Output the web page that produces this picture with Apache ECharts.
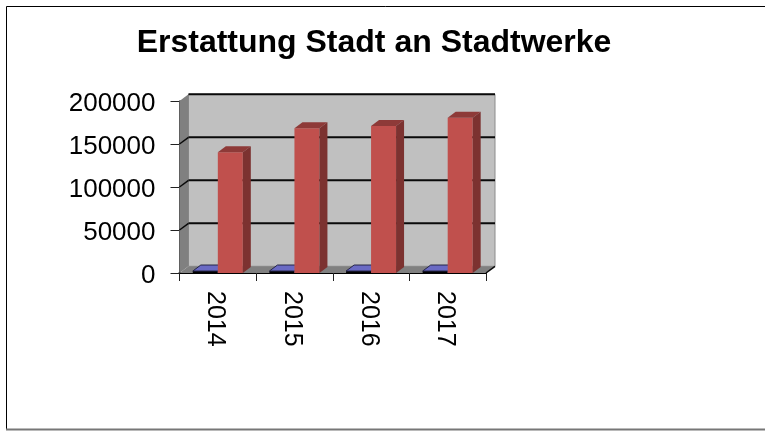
<!DOCTYPE html>
<html>
<head>
<meta charset="utf-8">
<style>
  html, body { margin: 0; padding: 0; background: #fff; }
  #chart { width: 765px; height: 433px; }
</style>
<script src="https://cdn.jsdelivr.net/npm/echarts@6/dist/echarts.min.js"></script>
</head>
<body>
<div id="chart"></div>
<script>
const years = ['2014', '2015', '2016', '2017'];
const blueValues = [2300, 2300, 2300, 2300];
const redValues = [140400, 168300, 170900, 180600];
const yTicks = [0, 50000, 100000, 150000, 200000];

// Versatz der 3D-Tiefe
const wallX = 9;
const wallY = -6.7;
const barX = 8;
const barY = -6;
const barWidth = 25;

function poly(points, fill, stroke) {
  return {
    type: 'polygon',
    shape: { points: points },
    style: { fill: fill, stroke: stroke || fill, lineWidth: stroke ? 1 : 0 }
  };
}

function renderWalls(params, api) {
  const bottomLeft = api.coord([0, 0]);
  const topLeft = api.coord([0, 200000]);
  const size = api.size([1, 0]);
  const left = bottomLeft[0] - size[0] / 2;
  const right = left + size[0] * years.length;
  const top = topLeft[1];
  const bottom = bottomLeft[1];
  const children = [
    poly([[left + wallX, top + wallY], [right + wallX, top + wallY], [right + wallX, bottom + wallY], [left + wallX, bottom + wallY]], '#c0c0c0', '#8c8c8c'),
    poly([[left, top], [left + wallX, top + wallY], [left + wallX, bottom + wallY], [left, bottom]], '#808080'),
    poly([[left, bottom], [left + wallX, bottom + wallY], [right + wallX, bottom + wallY], [right, bottom]], '#808080'),
    {
      type: 'line',
      shape: { x1: right, y1: bottom, x2: right + wallX, y2: bottom + wallY },
      style: { stroke: '#0a0a0a', lineWidth: 1.5 }
    }
  ];
  yTicks.forEach(function (t) {
    const y = api.coord([0, t])[1];
    if (t > 0) {
      children.push({
        type: 'line',
        shape: { x1: left + wallX, y1: y + wallY, x2: right + wallX, y2: y + wallY },
        style: { stroke: '#0a0a0a', lineWidth: 2 }
      });
    }
    if (t > 0 && t < 200000) {
      children.push({
        type: 'line',
        shape: { x1: left, y1: y, x2: left + wallX, y2: y + wallY },
        style: { stroke: '#0a0a0a', lineWidth: 1.5 }
      });
    }
  });
  return { type: 'group', children: children };
}

function renderBar(offset, front, topFace, side, edge) {
  return function (params, api) {
    const base = api.coord([api.value(0), 0]);
    const head = api.coord([api.value(0), api.value(1)]);
    const x1 = base[0] + offset;
    const x2 = x1 + barWidth;
    const yTop = head[1];
    const yBase = base[1];
    return {
      type: 'group',
      children: [
        poly([[x1, yTop], [x2, yTop], [x2, yBase], [x1, yBase]], front),
        poly([[x1, yTop], [x1 + barX, yTop + barY], [x2 + barX, yTop + barY], [x2, yTop]], topFace, edge),
        poly([[x2, yTop], [x2 + barX, yTop + barY], [x2 + barX, yBase + barY], [x2, yBase]], side)
      ]
    };
  };
}

const chart = echarts.init(document.getElementById('chart'), null, { renderer: 'canvas' });
chart.setOption({
  animation: false,
  backgroundColor: '#ffffff',
  title: {
    text: 'Erstattung Stadt an Stadtwerke',
    left: 369,
    top: 22,
    textAlign: 'center',
    textStyle: { fontFamily: 'Liberation Sans', fontSize: 32, fontWeight: 'bold', color: '#000' }
  },
  graphic: [
    {
      type: 'polyline',
      z: -1,
      shape: { points: [[6.5, 429], [6.5, 6.5], [765, 6.5]] },
      style: { fill: 'none', stroke: '#000', lineWidth: 1 }
    },
    {
      type: 'line',
      z: -1,
      shape: { x1: 6, y1: 429.5, x2: 765, y2: 429.5 },
      style: { stroke: '#777', lineWidth: 2 }
    }
  ],
  grid: { left: 179.5, top: 101, width: 306.5, height: 172 },
  xAxis: {
    type: 'category',
    data: years,
    axisLine: { show: true, lineStyle: { color: '#000', width: 2 } },
    axisTick: { show: true, length: 8, alignWithLabel: false, lineStyle: { color: '#222', width: 1 } },
    axisLabel: { rotate: -90, margin: 18, verticalAlign: 'top', lineHeight: 5, color: '#000', fontFamily: 'Liberation Sans', fontSize: 25 }
  },
  yAxis: {
    type: 'value',
    min: 0,
    max: 200000,
    interval: 50000,
    splitLine: { show: false },
    axisLine: { show: true, lineStyle: { color: '#000', width: 1.5 } },
    axisTick: { show: true, length: 9, lineStyle: { color: '#222', width: 1 } },
    axisLabel: {
      margin: 24,
      verticalAlign: 'top',
      lineHeight: 5,
      color: '#000',
      fontFamily: 'Liberation Sans',
      fontSize: 26,
      formatter: function (v) { return String(v); }
    }
  },
  series: [
    { type: 'custom', silent: true, z: 1, data: [[0, 0]], renderItem: renderWalls },
    { type: 'custom', silent: true, z: 2, data: years.map((y, i) => [i, blueValues[i]]), renderItem: renderBar(-25, '#000000', '#6a6ac4', '#3c3c80', '#26264a') },
    { type: 'custom', silent: true, z: 3, data: years.map((y, i) => [i, redValues[i]]), renderItem: renderBar(0, '#c0504d', '#8e3a38', '#7c3230') }
  ]
});
</script>
</body>
</html>
